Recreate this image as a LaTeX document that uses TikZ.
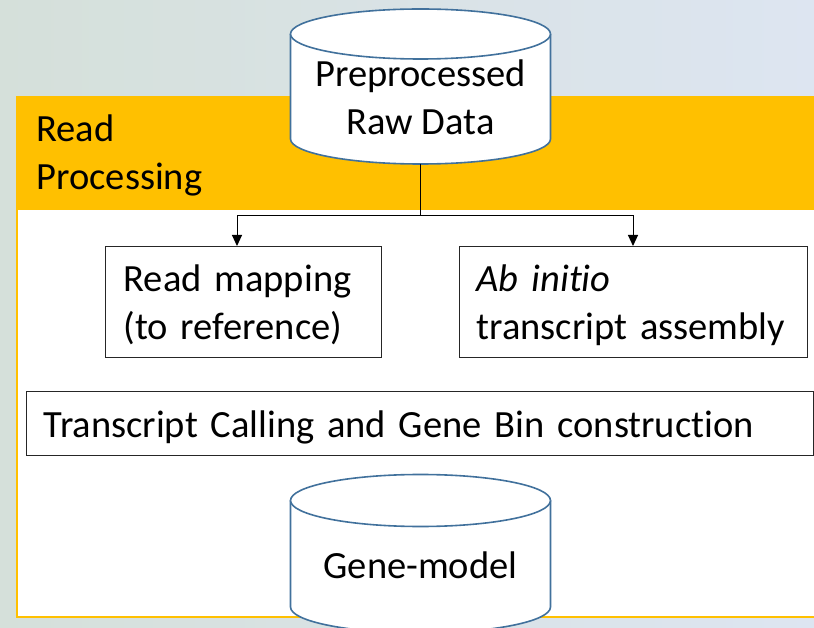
\documentclass[tikz,border=0pt]{standalone}
\usepackage{fontspec}
\setmainfont{Carlito}[Ligatures=NoCommon]
\usetikzlibrary{arrows.meta}
\definecolor{bgleft}{RGB}{213,224,218}
\definecolor{bgright}{RGB}{221,229,241}
\definecolor{band}{RGB}{255,192,0}
\definecolor{cylblue}{RGB}{65,113,156}
\tikzset{
  txt/.style={font=\fontsize{38.5}{48}\selectfont},
  stage/.style={draw=black!85, line width=1.4pt, fill=white, txt, align=left,
    inner ysep=0pt, anchor=north west},
  cyl/.style={draw=cylblue, line width=1.6pt, fill=white},
  link/.style={draw=black, line width=1pt},
  arr/.style={link, -{Triangle[width=10pt,length=11pt]}}
}
\begin{document}
\begin{tikzpicture}[x=1pt,y=1pt]
  \useasboundingbox (0,0) rectangle (814,627);
  % backdrop
  \shade[left color=bgleft, right color=bgright] (0,0) rectangle (814,627);
  % read processing panel with its heading band
  \draw[band, line width=2pt, fill=white] (17,10) rectangle (830,530);
  \fill[band] (16,417) rectangle (830,531);
  \node[txt, align=left, anchor=base west] (head) at (33,437) {Read\\Processing};

  % input data store
  \path[cyl] (290.5,593) -- (290.5,488) arc[start angle=180, end angle=360, x radius=130, y radius=25]
    -- (550.5,593) arc[start angle=0, end angle=180, x radius=130, y radius=25] -- cycle;
  \draw[cyl] (290.5,593) arc[start angle=180, end angle=360, x radius=130, y radius=25];
  \node[txt, align=center, anchor=base] (raw) at (420.5,492) {Preprocessed\\Raw Data};
  \coordinate (rawbot) at (420.5,463);
  \coordinate (split) at (420.5,411);

  % processing stages (two-line boxes: height above first baseline, depth below it)
  \node[stage, minimum width=276pt, minimum height=111pt, text width=240pt, inner xsep=18pt,
    text height=35pt, text depth=56pt]
    (map) at (105,381) {Read mapping\\(to reference)};
  \node[stage, minimum width=348pt, minimum height=111pt, text width=314pt, inner xsep=17pt,
    text height=35pt, text depth=56pt]
    (asm) at (459,381) {\textit{Ab initio}\\transcript assembly};
  \node[stage, minimum width=787pt, minimum height=64pt, text width=753pt, inner xsep=17pt,
    text height=35pt, text depth=8pt]
    (call) at (26,236) {Transcript Calling and Gene Bin construction};

  % connectors
  \draw[link] (rawbot) -- (split);
  \draw[arr] (split) -| (map.north -| 237,0);
  \draw[arr] (split) -| (asm.north -| 633,0);

  % output data store
  \path[cyl] (290.5,126.5) -- (290.5,20) arc[start angle=180, end angle=360, x radius=130, y radius=26]
    -- (550.5,126.5) arc[start angle=0, end angle=180, x radius=130, y radius=26] -- cycle;
  \draw[cyl] (290.5,126.5) arc[start angle=180, end angle=360, x radius=130, y radius=26];
  \node[txt, anchor=base] (gene) at (420.5,49) {Gene-model};
\end{tikzpicture}
\end{document}
